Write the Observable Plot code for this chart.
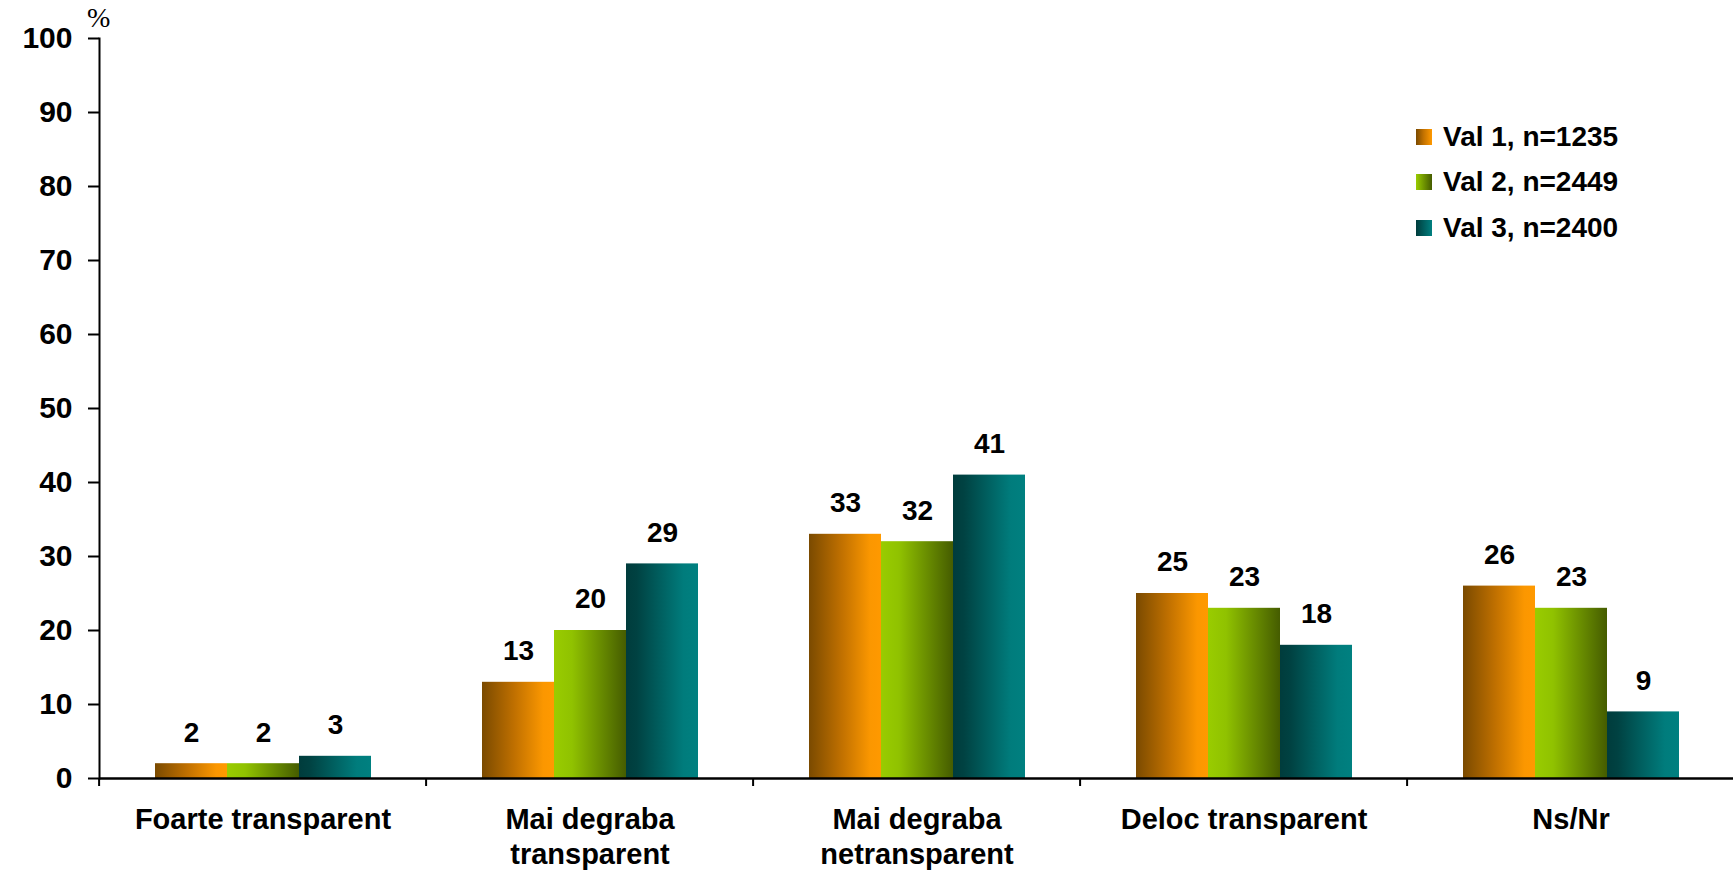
<!DOCTYPE html>
<html><head><meta charset="utf-8">
<script src="https://cdn.jsdelivr.net/npm/d3@7"></script>
<script src="https://cdn.jsdelivr.net/npm/@observablehq/plot@0.6"></script>
<style>
html,body{margin:0;padding:0;background:#fff;}
#wrap{position:relative;width:1733px;height:870px;overflow:hidden;font-family:"Liberation Sans",Arial,sans-serif;}
#pct{position:absolute;left:87px;top:2px;font-family:"Liberation Serif","Times New Roman",serif;font-size:28px;color:#000;}
#legend{position:absolute;left:1416px;top:114px;}
.row{height:45.5px;display:flex;align-items:center;font-size:28px;font-weight:bold;color:#000;}
.sw{width:16px;height:16px;margin-right:11px;}
</style></head><body>
<svg width="0" height="0" style="position:absolute">
<defs>
<linearGradient id="g1" x1="0" x2="1" y1="0" y2="0">
<stop offset="0" stop-color="#7a4a00"/><stop offset="0.45" stop-color="#c07000"/><stop offset="0.85" stop-color="#fb9700"/><stop offset="1" stop-color="#ff9900"/>
</linearGradient>
<linearGradient id="g2" x1="0" x2="1" y1="0" y2="0">
<stop offset="0" stop-color="#99cc00"/><stop offset="0.25" stop-color="#90c200"/><stop offset="1" stop-color="#455c00"/>
</linearGradient>
<linearGradient id="g3" x1="0" x2="1" y1="0" y2="0">
<stop offset="0" stop-color="#003c3c"/><stop offset="0.15" stop-color="#004242"/><stop offset="0.8" stop-color="#007c7c"/><stop offset="1" stop-color="#008080"/>
</linearGradient>
</defs></svg>
<div id="wrap"><div id="pct">%</div><div id="legend"></div></div>
<script>
const categories = ["Foarte transparent", "Mai degraba transparent", "Mai degraba netransparent", "Deloc transparent", "Ns/Nr"];
const categoryLabels = ["Foarte transparent", "Mai degraba\ntransparent", "Mai degraba\nnetransparent", "Deloc transparent", "Ns/Nr"];
const seriesNames = ["Val 1, n=1235", "Val 2, n=2449", "Val 3, n=2400"];
const val1 = [2, 13, 33, 25, 26];
const val2 = [2, 20, 32, 23, 23];
const val3 = [3, 29, 41, 18, 9];
const yTicks = [0, 10, 20, 30, 40, 50, 60, 70, 80, 90, 100];
const gradientIds = ["g1", "g2", "g3"];

const seriesValues = [val1, val2, val3];
const data = categories.flatMap((c, i) => seriesValues.map((v, j) => ({
  category: c, series: seriesNames[j], value: v[i], fill: `url(#${gradientIds[j]})`
})));

const W = 1733, H = 870, mL = 97, mR = -3, mT = 38, mB = 92;
const step = (W - mL - mR) / categories.length;
const font = '"Liberation Sans", Arial, sans-serif';

const chart = Plot.plot({
  width: W, height: H,
  marginLeft: mL, marginRight: mR, marginTop: mT, marginBottom: mB,
  style: {fontFamily: font, background: "transparent", color: "#000"},
  fx: {domain: categories, paddingInner: 0, paddingOuter: 0, axis: null, label: null},
  x: {domain: seriesNames, paddingInner: 0, paddingOuter: 0.74, axis: null},
  y: {domain: [0, 100], axis: null},
  color: {type: "identity"},
  marks: [
    Plot.barY(data, {fx: "category", x: "series", y: "value", fill: "fill"}),
    Plot.text(data, {fx: "category", x: "series", y: "value", text: d => String(d.value),
      dy: -31, fontSize: 28, fontWeight: "bold", fill: "#000"}),
    Plot.ruleY([0], {stroke: "#000", strokeWidth: 2.5}),
    Plot.frame({anchor: "left", facetAnchor: "left", stroke: "#000", strokeWidth: 2}),
    Plot.axisY({ticks: yTicks, tickSize: 11, tickPadding: 16, fontSize: 30, fontWeight: "bold",
      color: "#000", strokeWidth: 2, label: null}),
    Plot.axisFx({anchor: "bottom", tickSize: 0, tickPadding: 26, fontSize: 29, fontWeight: "bold",
      lineHeight: 1.2, color: "#000", label: null,
      tickFormat: c => categoryLabels[categories.indexOf(c)]}),
    Plot.axisFx({anchor: "bottom", tickSize: 8, tickFormat: () => "", dx: -step / 2,
      color: "#000", strokeWidth: 2, label: null})
  ]
});
document.getElementById("wrap").prepend(chart);

const legend = document.getElementById("legend");
const grads = {
  g1: "linear-gradient(to right,#7a4a00,#c07000 45%,#ff9900)",
  g2: "linear-gradient(to right,#99cc00,#455c00)",
  g3: "linear-gradient(to right,#003c3c,#008080)"
};
seriesNames.forEach((s, j) => {
  const row = document.createElement("div");
  row.className = "row";
  const sw = document.createElement("div");
  sw.className = "sw";
  sw.style.background = grads[gradientIds[j]];
  row.appendChild(sw);
  row.appendChild(document.createTextNode(s));
  legend.appendChild(row);
});
</script>
</body></html>
